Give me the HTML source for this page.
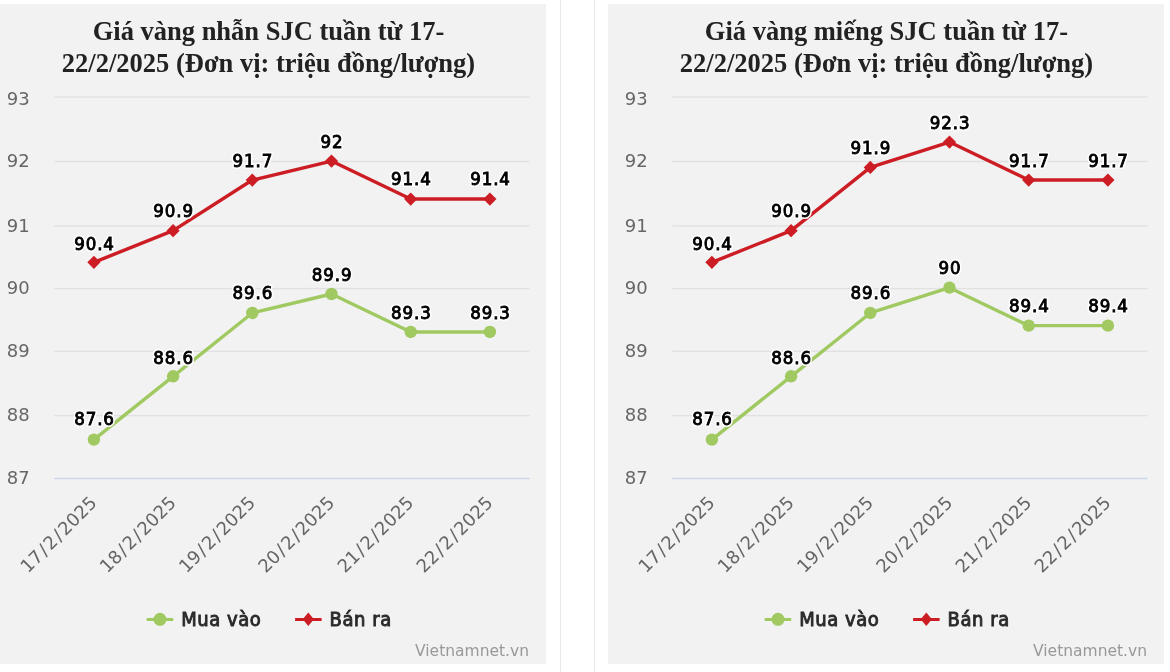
<!DOCTYPE html>
<html><head><meta charset="utf-8"><title>Giá vàng SJC</title>
<style>
html,body{margin:0;padding:0;background:#fff;}
body{width:1170px;height:672px;overflow:hidden;position:relative;}
.bgL{position:absolute;left:0;top:4px;width:546px;height:660px;background:#f2f2f2;}
.bgR{position:absolute;left:608px;top:4px;width:556px;height:660px;background:#f2f2f2;}
.vl{position:absolute;top:0;width:1px;height:672px;background:#e8e8e8;}
svg{position:absolute;left:0;top:0;will-change:transform;}
.ttl{font-family:"Liberation Serif","DejaVu Serif",serif;font-weight:bold;font-size:26.5px;fill:#222;text-anchor:middle;}
.yl{font-family:"DejaVu Sans","Liberation Sans",sans-serif;font-size:18px;fill:#666;text-anchor:end;}
.xl{font-family:"DejaVu Sans","Liberation Sans",sans-serif;font-size:18px;fill:#666;text-anchor:end;}
.dl,.dlh{font-family:"DejaVu Sans Condensed","DejaVu Sans",sans-serif;font-size:18.5px;text-anchor:middle;letter-spacing:0.9px;}
.dlh{fill:#fff;stroke:#fff;stroke-width:4px;stroke-linejoin:round;}
.dl{fill:#000;stroke:#000;stroke-width:0.9px;}
.lg{font-family:"DejaVu Sans Condensed","DejaVu Sans",sans-serif;font-size:20px;fill:#2a2a2a;stroke:#2a2a2a;stroke-width:0.9px;letter-spacing:0.55px;}
.cr{font-family:"DejaVu Sans","Liberation Sans",sans-serif;font-size:15.5px;fill:#999;text-anchor:end;}
</style></head>
<body>
<div class="bgL"></div><div class="bgR"></div>
<div class="vl" style="left:560px"></div><div class="vl" style="left:594px"></div>
<svg width="1170" height="672" viewBox="0 0 1170 672">
<g>
<text class="ttl" x="268.5" y="40.0">Giá vàng nhẫn SJC tuần từ 17-</text>
<text class="ttl" x="268.5" y="72.0">22/2/2025 (Đơn vị: triệu đồng/lượng)</text>
<rect x="54.3" y="96.30" width="475.2" height="1.4" fill="#e1e1e1"/>
<rect x="54.3" y="160.80" width="475.2" height="1.4" fill="#e1e1e1"/>
<rect x="54.3" y="225.20" width="475.2" height="1.4" fill="#e1e1e1"/>
<rect x="54.3" y="287.90" width="475.2" height="1.4" fill="#e1e1e1"/>
<rect x="54.3" y="350.60" width="475.2" height="1.4" fill="#e1e1e1"/>
<rect x="54.3" y="414.90" width="475.2" height="1.4" fill="#e1e1e1"/>
<rect x="54.3" y="477.75" width="475.2" height="1.5" fill="#ccd6eb"/>
<text class="yl" x="29.6" y="104.8">93</text>
<text class="yl" x="29.6" y="166.7">92</text>
<text class="yl" x="29.6" y="231.9">91</text>
<text class="yl" x="29.6" y="293.8">90</text>
<text class="yl" x="29.6" y="357.3">89</text>
<text class="yl" x="29.6" y="420.9">88</text>
<text class="yl" x="29.6" y="483.8">87</text>
<text class="xl" transform="translate(97.90,504) rotate(-45)" x="0" y="0">17<tspan dx="1.6">/</tspan><tspan dx="1.6">2</tspan><tspan dx="1.6">/</tspan><tspan dx="1.6">2025</tspan></text>
<text class="xl" transform="translate(177.10,504) rotate(-45)" x="0" y="0">18<tspan dx="1.6">/</tspan><tspan dx="1.6">2</tspan><tspan dx="1.6">/</tspan><tspan dx="1.6">2025</tspan></text>
<text class="xl" transform="translate(256.30,504) rotate(-45)" x="0" y="0">19<tspan dx="1.6">/</tspan><tspan dx="1.6">2</tspan><tspan dx="1.6">/</tspan><tspan dx="1.6">2025</tspan></text>
<text class="xl" transform="translate(335.50,504) rotate(-45)" x="0" y="0">20<tspan dx="1.6">/</tspan><tspan dx="1.6">2</tspan><tspan dx="1.6">/</tspan><tspan dx="1.6">2025</tspan></text>
<text class="xl" transform="translate(414.70,504) rotate(-45)" x="0" y="0">21<tspan dx="1.6">/</tspan><tspan dx="1.6">2</tspan><tspan dx="1.6">/</tspan><tspan dx="1.6">2025</tspan></text>
<text class="xl" transform="translate(493.90,504) rotate(-45)" x="0" y="0">22<tspan dx="1.6">/</tspan><tspan dx="1.6">2</tspan><tspan dx="1.6">/</tspan><tspan dx="1.6">2025</tspan></text>
<polyline points="93.90,439.61 173.10,376.30 252.30,312.99 331.50,294.00 410.70,331.99 489.90,331.99" fill="none" stroke="#a0c962" stroke-width="3.4" stroke-linejoin="round" stroke-linecap="round"/>
<polyline points="93.90,262.35 173.10,230.69 252.30,180.04 331.50,161.05 410.70,199.04 489.90,199.04" fill="none" stroke="#cc1d24" stroke-width="3.4" stroke-linejoin="round" stroke-linecap="round"/>
<circle cx="93.90" cy="439.61" r="6.2" fill="#a0c962"/>
<circle cx="173.10" cy="376.30" r="6.2" fill="#a0c962"/>
<circle cx="252.30" cy="312.99" r="6.2" fill="#a0c962"/>
<circle cx="331.50" cy="294.00" r="6.2" fill="#a0c962"/>
<circle cx="410.70" cy="331.99" r="6.2" fill="#a0c962"/>
<circle cx="489.90" cy="331.99" r="6.2" fill="#a0c962"/>
<path d="M93.90 255.75L100.50 262.35L93.90 268.95L87.30 262.35Z" fill="#cc1d24"/>
<path d="M173.10 224.09L179.70 230.69L173.10 237.29L166.50 230.69Z" fill="#cc1d24"/>
<path d="M252.30 173.44L258.90 180.04L252.30 186.64L245.70 180.04Z" fill="#cc1d24"/>
<path d="M331.50 154.45L338.10 161.05L331.50 167.65L324.90 161.05Z" fill="#cc1d24"/>
<path d="M410.70 192.44L417.30 199.04L410.70 205.64L404.10 199.04Z" fill="#cc1d24"/>
<path d="M489.90 192.44L496.50 199.04L489.90 205.64L483.30 199.04Z" fill="#cc1d24"/>
<text class="dlh" x="94.50" y="425.46">87.6</text>
<text class="dl" x="94.50" y="425.46">87.6</text>
<text class="dlh" x="173.70" y="364.05">88.6</text>
<text class="dl" x="173.70" y="364.05">88.6</text>
<text class="dlh" x="252.90" y="298.99">89.6</text>
<text class="dl" x="252.90" y="298.99">89.6</text>
<text class="dlh" x="332.10" y="280.75">89.9</text>
<text class="dl" x="332.10" y="280.75">89.9</text>
<text class="dlh" x="411.30" y="318.74">89.3</text>
<text class="dl" x="411.30" y="318.74">89.3</text>
<text class="dlh" x="490.50" y="318.74">89.3</text>
<text class="dl" x="490.50" y="318.74">89.3</text>
<text class="dlh" x="94.50" y="250.30">90.4</text>
<text class="dl" x="94.50" y="250.30">90.4</text>
<text class="dlh" x="173.70" y="217.44">90.9</text>
<text class="dl" x="173.70" y="217.44">90.9</text>
<text class="dlh" x="252.90" y="166.79">91.7</text>
<text class="dl" x="252.90" y="166.79">91.7</text>
<text class="dlh" x="332.10" y="147.80">92</text>
<text class="dl" x="332.10" y="147.80">92</text>
<text class="dlh" x="411.30" y="184.99">91.4</text>
<text class="dl" x="411.30" y="184.99">91.4</text>
<text class="dlh" x="490.50" y="184.99">91.4</text>
<text class="dl" x="490.50" y="184.99">91.4</text>
<rect x="146.7" y="618" width="26.5" height="3" fill="#a0c962"/>
<circle cx="160" cy="619.3" r="6.5" fill="#a0c962"/>
<text class="lg" x="181.2" y="626">Mua vào</text>
<rect x="295.1" y="618" width="26.5" height="3" fill="#cc1d24"/>
<path d="M308.3 612.6L313.9 619.3L308.3 626L302.7 619.3Z" fill="#cc1d24"/>
<text class="lg" x="329.5" y="626">Bán ra</text>
<text class="cr" x="529" y="655.8">Vietnamnet.vn</text>
</g>
<g transform="translate(618,0)">
<text class="ttl" x="268.5" y="40.0">Giá vàng miếng SJC tuần từ 17-</text>
<text class="ttl" x="268.5" y="72.0">22/2/2025 (Đơn vị: triệu đồng/lượng)</text>
<rect x="54.3" y="96.30" width="475.2" height="1.4" fill="#e1e1e1"/>
<rect x="54.3" y="160.80" width="475.2" height="1.4" fill="#e1e1e1"/>
<rect x="54.3" y="225.20" width="475.2" height="1.4" fill="#e1e1e1"/>
<rect x="54.3" y="287.90" width="475.2" height="1.4" fill="#e1e1e1"/>
<rect x="54.3" y="350.60" width="475.2" height="1.4" fill="#e1e1e1"/>
<rect x="54.3" y="414.90" width="475.2" height="1.4" fill="#e1e1e1"/>
<rect x="54.3" y="477.75" width="475.2" height="1.5" fill="#ccd6eb"/>
<text class="yl" x="29.6" y="104.8">93</text>
<text class="yl" x="29.6" y="166.7">92</text>
<text class="yl" x="29.6" y="231.9">91</text>
<text class="yl" x="29.6" y="293.8">90</text>
<text class="yl" x="29.6" y="357.3">89</text>
<text class="yl" x="29.6" y="420.9">88</text>
<text class="yl" x="29.6" y="483.8">87</text>
<text class="xl" transform="translate(97.90,504) rotate(-45)" x="0" y="0">17<tspan dx="1.6">/</tspan><tspan dx="1.6">2</tspan><tspan dx="1.6">/</tspan><tspan dx="1.6">2025</tspan></text>
<text class="xl" transform="translate(177.10,504) rotate(-45)" x="0" y="0">18<tspan dx="1.6">/</tspan><tspan dx="1.6">2</tspan><tspan dx="1.6">/</tspan><tspan dx="1.6">2025</tspan></text>
<text class="xl" transform="translate(256.30,504) rotate(-45)" x="0" y="0">19<tspan dx="1.6">/</tspan><tspan dx="1.6">2</tspan><tspan dx="1.6">/</tspan><tspan dx="1.6">2025</tspan></text>
<text class="xl" transform="translate(335.50,504) rotate(-45)" x="0" y="0">20<tspan dx="1.6">/</tspan><tspan dx="1.6">2</tspan><tspan dx="1.6">/</tspan><tspan dx="1.6">2025</tspan></text>
<text class="xl" transform="translate(414.70,504) rotate(-45)" x="0" y="0">21<tspan dx="1.6">/</tspan><tspan dx="1.6">2</tspan><tspan dx="1.6">/</tspan><tspan dx="1.6">2025</tspan></text>
<text class="xl" transform="translate(493.90,504) rotate(-45)" x="0" y="0">22<tspan dx="1.6">/</tspan><tspan dx="1.6">2</tspan><tspan dx="1.6">/</tspan><tspan dx="1.6">2025</tspan></text>
<polyline points="93.90,439.61 173.10,376.30 252.30,312.99 331.50,287.67 410.70,325.66 489.90,325.66" fill="none" stroke="#a0c962" stroke-width="3.4" stroke-linejoin="round" stroke-linecap="round"/>
<polyline points="93.90,262.35 173.10,230.69 252.30,167.38 331.50,142.06 410.70,180.04 489.90,180.04" fill="none" stroke="#cc1d24" stroke-width="3.4" stroke-linejoin="round" stroke-linecap="round"/>
<circle cx="93.90" cy="439.61" r="6.2" fill="#a0c962"/>
<circle cx="173.10" cy="376.30" r="6.2" fill="#a0c962"/>
<circle cx="252.30" cy="312.99" r="6.2" fill="#a0c962"/>
<circle cx="331.50" cy="287.67" r="6.2" fill="#a0c962"/>
<circle cx="410.70" cy="325.66" r="6.2" fill="#a0c962"/>
<circle cx="489.90" cy="325.66" r="6.2" fill="#a0c962"/>
<path d="M93.90 255.75L100.50 262.35L93.90 268.95L87.30 262.35Z" fill="#cc1d24"/>
<path d="M173.10 224.09L179.70 230.69L173.10 237.29L166.50 230.69Z" fill="#cc1d24"/>
<path d="M252.30 160.78L258.90 167.38L252.30 173.98L245.70 167.38Z" fill="#cc1d24"/>
<path d="M331.50 135.46L338.10 142.06L331.50 148.66L324.90 142.06Z" fill="#cc1d24"/>
<path d="M410.70 173.44L417.30 180.04L410.70 186.64L404.10 180.04Z" fill="#cc1d24"/>
<path d="M489.90 173.44L496.50 180.04L489.90 186.64L483.30 180.04Z" fill="#cc1d24"/>
<text class="dlh" x="94.50" y="425.46">87.6</text>
<text class="dl" x="94.50" y="425.46">87.6</text>
<text class="dlh" x="173.70" y="364.05">88.6</text>
<text class="dl" x="173.70" y="364.05">88.6</text>
<text class="dlh" x="252.90" y="298.99">89.6</text>
<text class="dl" x="252.90" y="298.99">89.6</text>
<text class="dlh" x="332.10" y="274.42">90</text>
<text class="dl" x="332.10" y="274.42">90</text>
<text class="dlh" x="411.30" y="312.41">89.4</text>
<text class="dl" x="411.30" y="312.41">89.4</text>
<text class="dlh" x="490.50" y="312.41">89.4</text>
<text class="dl" x="490.50" y="312.41">89.4</text>
<text class="dlh" x="94.50" y="250.30">90.4</text>
<text class="dl" x="94.50" y="250.30">90.4</text>
<text class="dlh" x="173.70" y="217.44">90.9</text>
<text class="dl" x="173.70" y="217.44">90.9</text>
<text class="dlh" x="252.90" y="154.13">91.9</text>
<text class="dl" x="252.90" y="154.13">91.9</text>
<text class="dlh" x="332.10" y="128.81">92.3</text>
<text class="dl" x="332.10" y="128.81">92.3</text>
<text class="dlh" x="411.30" y="166.79">91.7</text>
<text class="dl" x="411.30" y="166.79">91.7</text>
<text class="dlh" x="490.50" y="166.79">91.7</text>
<text class="dl" x="490.50" y="166.79">91.7</text>
<rect x="146.7" y="618" width="26.5" height="3" fill="#a0c962"/>
<circle cx="160" cy="619.3" r="6.5" fill="#a0c962"/>
<text class="lg" x="181.2" y="626">Mua vào</text>
<rect x="295.1" y="618" width="26.5" height="3" fill="#cc1d24"/>
<path d="M308.3 612.6L313.9 619.3L308.3 626L302.7 619.3Z" fill="#cc1d24"/>
<text class="lg" x="329.5" y="626">Bán ra</text>
<text class="cr" x="529" y="655.8">Vietnamnet.vn</text>
</g>
</svg>
</body></html>
